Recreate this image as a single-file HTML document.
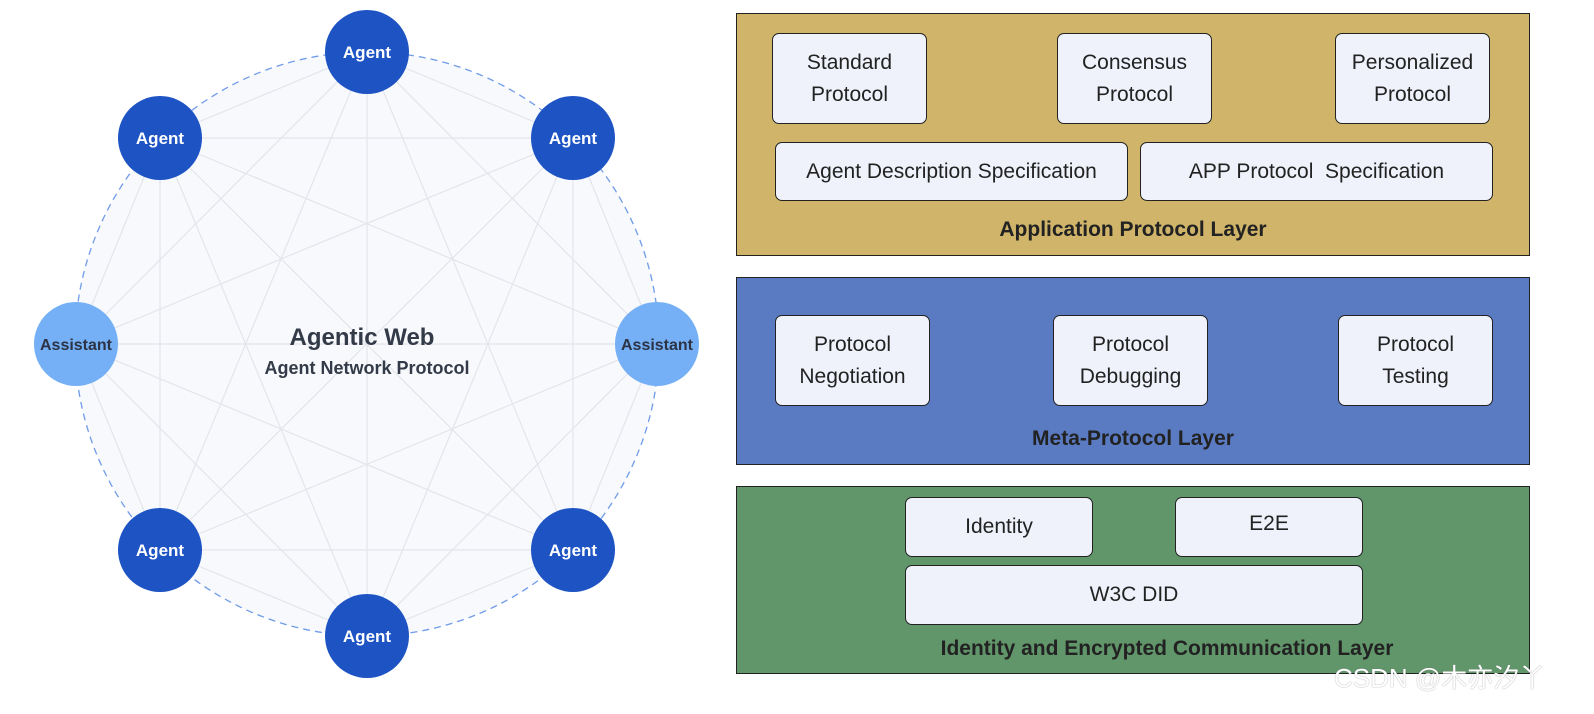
<!DOCTYPE html>
<html><head><meta charset="utf-8"><style>
body{margin:0;width:1594px;height:714px;background:#fff;position:relative;overflow:hidden;font-family:"Liberation Sans",sans-serif}
.layer{position:absolute;left:736px;width:794px;border:1.5px solid #222;box-sizing:border-box}
.b{position:absolute;background:#eff2fb;border:1.5px solid #222;border-radius:7px;box-sizing:border-box;display:flex;align-items:center;justify-content:center;text-align:center;font-size:21px;color:#222;line-height:32px}
.t{position:absolute;left:0;width:100%;text-align:center;font-weight:bold;font-size:21px;color:#222}
</style></head><body>
<svg width="720" height="714" style="position:absolute;left:0;top:0">
<circle cx="367" cy="344" r="292" fill="#f7f9fd" stroke="#6f9be8" stroke-width="1.3" stroke-dasharray="7,5"/>
<g stroke="#e3e5ea" stroke-width="1.2" id="lines"></g>
<g id="nodes"></g>
<text x="362" y="345" text-anchor="middle" font-size="24" font-weight="bold" fill="#333a48">Agentic Web</text>
<text x="367" y="374" text-anchor="middle" font-size="18" font-weight="bold" fill="#333a48">Agent Network Protocol</text>
</svg>
<script>
var P=[[367,52,0],[573,138,0],[657,344,1],[573,550,0],[367,636,0],[160,550,0],[76,344,1],[160,138,0]];
var ns="http://www.w3.org/2000/svg",L=document.getElementById('lines'),N=document.getElementById('nodes');
for(var i=0;i<8;i++)for(var j=i+1;j<8;j++){var l=document.createElementNS(ns,'line');l.setAttribute('x1',P[i][0]);l.setAttribute('y1',P[i][1]);l.setAttribute('x2',P[j][0]);l.setAttribute('y2',P[j][1]);L.appendChild(l);}
P.forEach(function(p){var c=document.createElementNS(ns,'circle');c.setAttribute('cx',p[0]);c.setAttribute('cy',p[1]);c.setAttribute('r',42);c.setAttribute('fill',p[2]?'#75b0f6':'#1d53c3');N.appendChild(c);
var t=document.createElementNS(ns,'text');t.setAttribute('x',p[0]);t.setAttribute('y',p[1]+6);t.setAttribute('text-anchor','middle');t.setAttribute('font-size',p[2]?'16':'17');t.setAttribute('font-weight','bold');t.setAttribute('fill',p[2]?'#2b3345':'#fff');t.textContent=p[2]?'Assistant':'Agent';N.appendChild(t);});
</script>
<div class="layer" style="top:13px;height:243px;background:#cfb46a">
<div class="b" style="left:35px;top:19px;width:155px;height:91px">Standard<br>Protocol</div>
<div class="b" style="left:320px;top:19px;width:155px;height:91px">Consensus<br>Protocol</div>
<div class="b" style="left:598px;top:19px;width:155px;height:91px">Personalized<br>Protocol</div>
<div class="b" style="left:38px;top:128px;width:353px;height:59px">Agent Description Specification</div>
<div class="b" style="left:403px;top:128px;width:353px;height:59px">APP Protocol&nbsp; Specification</div>
<div class="t" style="top:204px">Application Protocol Layer</div>
</div>
<div class="layer" style="top:277px;height:188px;background:#5a7bc2">
<div class="b" style="left:38px;top:37px;width:155px;height:91px">Protocol<br>Negotiation</div>
<div class="b" style="left:316px;top:37px;width:155px;height:91px">Protocol<br>Debugging</div>
<div class="b" style="left:601px;top:37px;width:155px;height:91px">Protocol<br>Testing</div>
<div class="t" style="top:149px">Meta-Protocol Layer</div>
</div>
<div class="layer" style="top:486px;height:188px;background:#61956a">
<div class="b" style="left:168px;top:10px;width:188px;height:60px">Identity</div>
<div class="b" style="left:438px;top:10px;width:188px;height:60px;align-items:flex-start;padding-top:10px">E2E</div>
<div class="b" style="left:168px;top:78px;width:458px;height:60px">W3C DID</div>
<div class="t" style="top:150px;left:34px">Identity and Encrypted Communication Layer</div>
</div>
<div style="position:absolute;left:1334px;top:658px;font-size:26px;color:#fff;font-family:'Liberation Sans','Noto Sans CJK SC',sans-serif;text-shadow:0 0 1px #777">CSDN @木亦汐丫</div>
</body></html>
